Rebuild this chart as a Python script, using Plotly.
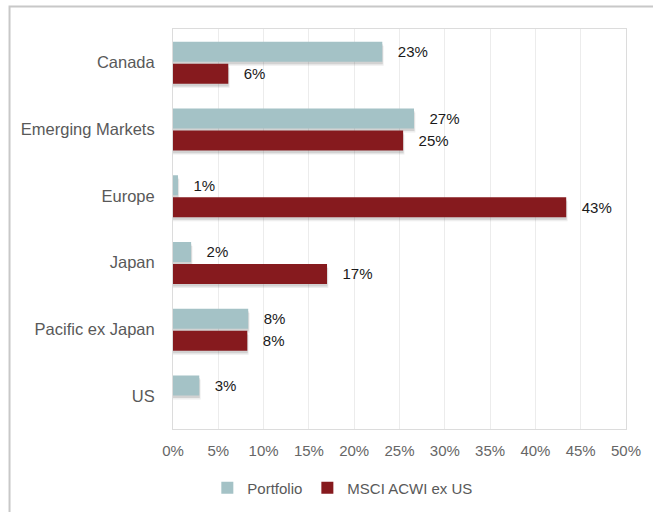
import plotly.graph_objects as go

categories = ["Canada", "Emerging Markets", "Europe", "Japan", "Pacific ex Japan", "US"]
portfolio = [23.1, 26.6, 0.55, 2.0, 8.3, 2.9]
msci = [6.1, 25.4, 43.4, 17.0, 8.2, 0.0]
series_names = ["Portfolio", "MSCI ACWI ex US"]
x_ticks = list(range(0, 55, 5))

C_PORT = "#A4C2C6"
C_MSCI = "#861A1E"
FONT = "Liberation Sans Narrow, Arial Narrow, Liberation Sans, Arial, sans-serif"

def lab(vals):
    return ["" if v == 0 else f"{int(v + 0.5)}%" for v in vals]

fig = go.Figure()

W = 0.30
offs = {"p": -0.31, "m": 0.02}

# soft drop shadows
for vals, key in [(portfolio, "p"), (msci, "m")]:
    for dy, dx, a in [(0.06, 0.15, 0.08), (0.04, 0.05, 0.14)]:
        fig.add_trace(go.Bar(
            y=categories, x=[v + dx if v > 0 else 0 for v in vals], orientation="h",
            width=W, offset=offs[key] + dy,
            marker=dict(color=f"rgba(40,40,40,{a})", line=dict(width=0)),
            showlegend=False, hoverinfo="skip"))

fig.add_trace(go.Bar(
    y=categories, x=portfolio, orientation="h", name=series_names[0],
    width=W, offset=offs["p"],
    marker=dict(color=C_PORT, line=dict(width=0)),
    text=["   " + t for t in lab(portfolio)], textposition="outside",
    textfont=dict(family=FONT, size=15, color="#1a1a1a"), cliponaxis=False))
fig.add_trace(go.Bar(
    y=categories, x=msci, orientation="h", name=series_names[1],
    width=W, offset=offs["m"],
    marker=dict(color=C_MSCI, line=dict(width=0)),
    text=["   " + t if t else "" for t in lab(msci)], textposition="outside",
    textfont=dict(family=FONT, size=15, color="#1a1a1a"), cliponaxis=False))

fig.update_layout(
    width=653, height=512,
    margin=dict(l=173, r=20, t=29, b=81),
    barmode="overlay",
    plot_bgcolor="white", paper_bgcolor="white",
    font=dict(family=FONT, color="#595959"),
    legend=dict(orientation="h", xref="container", yref="container",
                x=0.525, y=0.047, xanchor="center", yanchor="middle",
                font=dict(family=FONT, size=15, color="#595959"),
                traceorder="normal", itemwidth=30, tracegroupgap=0),
    xaxis=dict(range=[0, 50], tickvals=x_ticks, ticktext=[f"{t}%" for t in x_ticks],
               showgrid=True, gridcolor="#ececec", gridwidth=1,
               zeroline=False, showline=True, linecolor="#dcdcdc", linewidth=1, mirror=True,
               ticks="outside", ticklen=8, tickcolor="rgba(0,0,0,0)",
               tickfont=dict(family=FONT, size=15, color="#666666"), fixedrange=True),
    yaxis=dict(type="category", categoryorder="array", categoryarray=categories,
               range=[5.5, -0.5], showgrid=False, zeroline=False,
               showline=True, linecolor="#dcdcdc", linewidth=1, mirror=True,
               ticks="outside", ticklen=14, tickcolor="rgba(0,0,0,0)",
               tickfont=dict(family=FONT, size=16.5, color="#595959")),
    shapes=[dict(type="rect", xref="paper", yref="paper",
                 x0=(7 - 173) / 460, x1=(670 - 173) / 460,
                 y0=-(530 - 431) / 402, y1=1 + (29 - 6.5) / 402,
                 line=dict(color="#c8c8c8", width=2), layer="below")],
)

fig.write_html("out.html")
